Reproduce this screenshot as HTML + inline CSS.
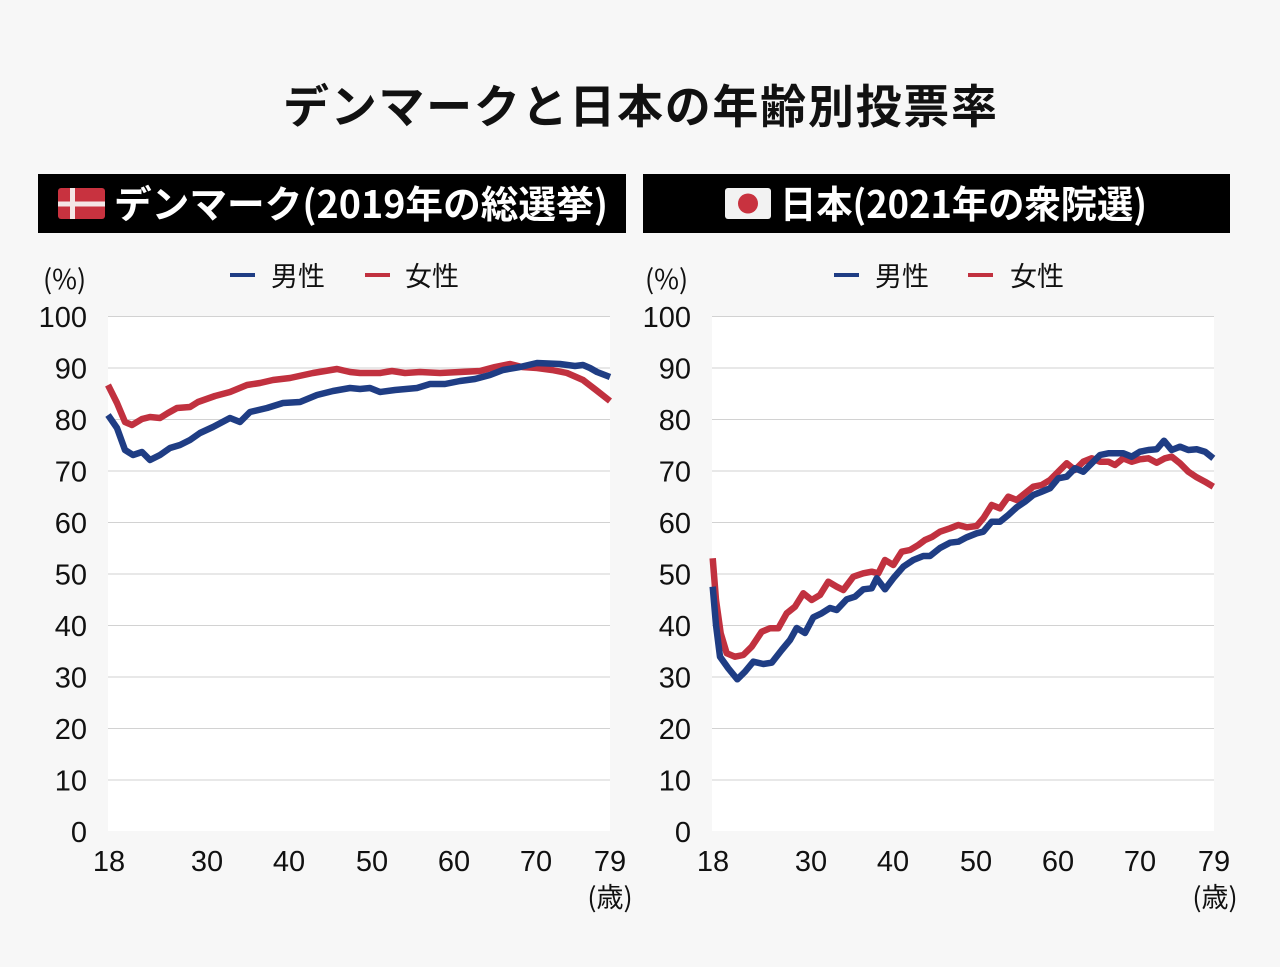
<!DOCTYPE html>
<html><head><meta charset="utf-8"><style>
html,body{margin:0;padding:0;background:#f7f7f7;}
svg{display:block;}
text{font-family:"Liberation Sans","Noto Sans CJK JP",sans-serif;}
.cj{font-family:"Noto Sans CJK JP","Liberation Sans",sans-serif;}
</style></head><body>
<svg width="1280" height="967" viewBox="0 0 1280 967" xmlns="http://www.w3.org/2000/svg">
<rect width="1280" height="967" fill="#f7f7f7"/>
<!-- Title -->
<text class="cj" x="283" y="123" font-size="46" font-weight="bold" fill="#111" textLength="714" lengthAdjust="spacing">デンマークと日本の年齢別投票率</text>

<!-- Header bars -->
<rect x="38" y="174" width="588" height="59" fill="#000"/>
<rect x="643" y="174" width="587" height="59" fill="#000"/>
<!-- DK flag -->
<g>
<rect x="58" y="188" width="47" height="31" rx="3" fill="#c8323f"/>
<rect x="70" y="188" width="5" height="31" fill="#f4e6e6"/>
<rect x="58" y="201.5" width="47" height="5" fill="#f4e6e6"/>
</g>
<text class="cj" x="114" y="218" font-size="38" font-weight="bold" fill="#fff" textLength="494" lengthAdjust="spacingAndGlyphs">デンマーク(2019年の総選挙)</text>
<!-- JP flag -->
<g>
<rect x="725" y="188" width="46" height="31" rx="3" fill="#f2f2f2"/>
<circle cx="748" cy="203.5" r="10" fill="#c8323f"/>
</g>
<text class="cj" x="780" y="218" font-size="38" font-weight="bold" fill="#fff" textLength="367" lengthAdjust="spacingAndGlyphs">日本(2021年の衆院選)</text>

<!-- Legends -->
<rect x="230" y="273" width="25" height="4" fill="#1f3d84"/>
<text class="cj" x="271" y="286" font-size="27" fill="#111">男性</text>
<rect x="365" y="273" width="25" height="4" fill="#c1313f"/>
<text class="cj" x="405" y="286" font-size="27" fill="#111">女性</text>

<rect x="834" y="273" width="25" height="4" fill="#1f3d84"/>
<text class="cj" x="875" y="286" font-size="27" fill="#111">男性</text>
<rect x="968" y="273" width="25" height="4" fill="#c1313f"/>
<text class="cj" x="1010" y="286" font-size="27" fill="#111">女性</text>

<!-- (%) -->
<text class="cj" x="43" y="289" font-size="27" fill="#111">(%)</text>
<text class="cj" x="645" y="289" font-size="27" fill="#111">(%)</text>

<!-- Plot areas -->
<rect x="108" y="316" width="502" height="515" fill="#fff"/>
<rect x="712" y="316" width="502" height="515" fill="#fff"/>

<g stroke="#d2d2d2" stroke-width="1">
<line x1="108" y1="316.5" x2="610" y2="316.5"/><line x1="108" y1="368" x2="610" y2="368"/><line x1="108" y1="419.5" x2="610" y2="419.5"/><line x1="108" y1="471" x2="610" y2="471"/><line x1="108" y1="522.5" x2="610" y2="522.5"/><line x1="108" y1="574" x2="610" y2="574"/><line x1="108" y1="625.5" x2="610" y2="625.5"/><line x1="108" y1="677" x2="610" y2="677"/><line x1="108" y1="728.5" x2="610" y2="728.5"/><line x1="108" y1="780" x2="610" y2="780"/>
<line x1="712" y1="316.5" x2="1214" y2="316.5"/><line x1="712" y1="368" x2="1214" y2="368"/><line x1="712" y1="419.5" x2="1214" y2="419.5"/><line x1="712" y1="471" x2="1214" y2="471"/><line x1="712" y1="522.5" x2="1214" y2="522.5"/><line x1="712" y1="574" x2="1214" y2="574"/><line x1="712" y1="625.5" x2="1214" y2="625.5"/><line x1="712" y1="677" x2="1214" y2="677"/><line x1="712" y1="728.5" x2="1214" y2="728.5"/><line x1="712" y1="780" x2="1214" y2="780"/>
</g>

<!-- Y labels -->
<g font-size="29" fill="#111" text-anchor="end">
<text x="87" y="327">100</text><text x="87" y="378.5">90</text><text x="87" y="430">80</text><text x="87" y="481.5">70</text><text x="87" y="533">60</text><text x="87" y="584.5">50</text><text x="87" y="636">40</text><text x="87" y="687.5">30</text><text x="87" y="739">20</text><text x="87" y="790.5">10</text><text x="87" y="842">0</text>
<text x="691" y="327">100</text><text x="691" y="378.5">90</text><text x="691" y="430">80</text><text x="691" y="481.5">70</text><text x="691" y="533">60</text><text x="691" y="584.5">50</text><text x="691" y="636">40</text><text x="691" y="687.5">30</text><text x="691" y="739">20</text><text x="691" y="790.5">10</text><text x="691" y="842">0</text>
</g>

<!-- X labels -->
<g font-size="29" fill="#111" text-anchor="middle">
<text x="109" y="871">18</text><text x="207" y="871">30</text><text x="289" y="871">40</text><text x="372" y="871">50</text><text x="454" y="871">60</text><text x="536" y="871">70</text><text x="610" y="871">79</text>
<text x="713" y="871">18</text><text x="811" y="871">30</text><text x="893" y="871">40</text><text x="976" y="871">50</text><text x="1058" y="871">60</text><text x="1140" y="871">70</text><text x="1214" y="871">79</text>
</g>
<text class="cj" x="610" y="907" font-size="27" fill="#111" text-anchor="middle">(歳)</text>
<text class="cj" x="1215" y="907" font-size="27" fill="#111" text-anchor="middle">(歳)</text>

<!-- Denmark series -->
<g fill="none" stroke-width="6.5" stroke-linejoin="round" stroke-linecap="butt">
<polyline stroke="#c1313f" points="108,385 117,403 125,422 132,425 142,419 150,417 160,418 168,413 177,408 190,407 198,402 215,396 230,392 247,385 260,383 273,380 290,378 313,373 325,371 337,369 350,372 360,373 380,373 392,371 405,373 420,372 440,373 460,372 480,371 495,367 510,364 522,367 537,368 552,370 567,373 583,380 596,390 610,401"/>
<polyline stroke="#1f3d84" points="108,415 117,428 125,450 133,455 142,452 150,460 160,455 170,448 180,445 190,440 200,433 213,427 230,418 240,422 250,412 267,408 283,403 300,402 317,395 333,391 350,388 360,389 370,388 380,392 395,390 417,388 430,384 445,384 460,381 475,379 490,375 503,370 520,367 537,363 560,364 575,366 583,365 590,368 597,372 610,377"/>
</g>

<!-- Japan series -->
<g fill="none" stroke-width="6.5" stroke-linejoin="round" stroke-linecap="butt">
<polyline stroke="#c1313f" points="712.7,558.3 716,600 720.7,633.3 726.7,653.3 735,656.7 743.3,655 751.7,646.7 761.7,631.7 770,628.3 778.3,628.3 786.7,613.3 795,606.7 803.3,593.3 811.7,600 820,595 828.3,581.7 836.7,586.7 843.3,590 853.3,576.7 863.3,573.3 871.7,571.7 878.3,573.3 885,560 893.3,565 901.7,551.7 910,550 918.3,545 925,540 932,537 940,531.7 950,528.3 958.3,525 966.7,527.3 976.7,526 983.3,518.3 991.7,505 1000,508.3 1008.3,496.7 1016.7,500 1025,493.3 1033.3,486.7 1041.7,485 1050,480 1058.3,471.7 1066.7,463.3 1075,470 1083.3,461.7 1091.7,458.3 1100,461.7 1108.3,461.7 1115,465 1123.3,458.3 1131.7,461.7 1140,459.3 1148.3,458.3 1156.7,462.7 1165,458.3 1171.7,456.7 1180,463.3 1188.3,471.7 1196.7,477.3 1205,481.7 1213.3,486.7"/>
<polyline stroke="#1f3d84" points="712.7,586.7 716,625 720,656.7 728.3,668.3 737.3,679.3 745,671.7 753.3,661.7 763.3,664 771.7,662.7 781.7,650 790,640 796.7,628 805,633 813.3,617.3 821.7,613.3 830,608 836.7,610 846.7,599.3 855,596.7 863.3,589.3 871.7,588.3 876.7,578.3 885,589.3 893.3,578.3 903.3,566.7 913.3,560 923.3,556 930,556 940,548 950,542.7 958.3,541.7 966.7,537.3 976.7,533.3 983.3,531.7 991.7,521.7 1000,521.7 1008.3,515 1016.7,507.3 1025,501.7 1033.3,495 1041.7,491.7 1050,488.3 1058.3,478.3 1066.7,476.7 1075,468.3 1083.3,471.7 1091.7,463.3 1100,455 1108.3,453.3 1115,453.3 1123.3,453.3 1131.7,456.7 1140,451.7 1148.3,450 1156.7,449.3 1164,440.7 1171.7,450 1180,446.7 1188.3,450 1196.7,449.3 1205,451.7 1213.3,458.3"/>
</g>
</svg>
</body></html>
